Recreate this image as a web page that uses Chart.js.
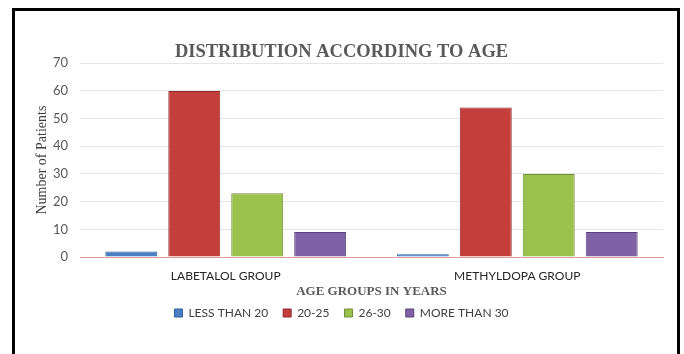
<!DOCTYPE html>
<html>
<head>
<meta charset="utf-8">
<script src="https://cdn.jsdelivr.net/npm/chart.js@4/dist/chart.umd.min.js"></script>
<style>
  html, body { margin: 0; padding: 0; background: #fff; overflow: hidden; }
  #frame {
    position: absolute; left: 12px; top: 8px; width: 668px; height: 420px;
    box-sizing: border-box; border: 3px solid #000;
  }
  #chart { position: absolute; left: 0; top: 0; }
</style>
</head>
<body>
<div id="frame"></div>
<canvas id="chart" width="684" height="354"></canvas>
<script>
// chart data
const groups = ['LABETALOL GROUP', 'METHYLDOPA GROUP'];
const ageBands = ['LESS THAN 20', '20-25', '26-30', 'MORE THAN 30'];
const lessThan20 = [2, 1];
const age20to25 = [60, 54];
const age26to30 = [23, 30];
const moreThan30 = [9, 9];
const yTicks = [0, 10, 20, 30, 40, 50, 60, 70];

const fills = ['#4a7fc4', '#c43f3c', '#9cc24e', '#7f61a6'];
const edges = ['#2f5f99', '#8e2a28', '#6f8f33', '#5a437c'];
const series = [lessThan20, age20to25, age26to30, moreThan30];

const ctx = document.getElementById('chart').getContext('2d');
new Chart(ctx, {
  type: 'bar',
  data: {
    labels: groups,
    datasets: series.map((vals, i) => ({
      label: ageBands[i], data: vals,
      backgroundColor: fills[i], borderColor: edges[i], borderWidth: 1,
      categoryPercentage: 0.864, barPercentage: 0.825
    }))
  },
  options: {
    responsive: false, animation: false,
    layout: { padding: { left: 20, right: 21, top: 41, bottom: 25 } },
    plugins: {
      title: {
        display: true, text: 'DISTRIBUTION ACCORDING TO AGE', color: '#595959',
        font: { family: 'Liberation Serif', size: 18.5, weight: 'bold' },
        padding: { top: 0, bottom: 0 }
      },
      legend: {
        position: 'bottom',
        labels: {
          color: '#404040', boxWidth: 8, boxHeight: 8, padding: 15,
          font: { family: 'Lato', size: 12 }
        }
      },
      tooltip: { enabled: false }
    },
    scales: {
      x: {
        grid: { display: false, drawTicks: false },
        border: { color: '#dc9c9a', width: 1 },
        ticks: { color: '#262626', padding: 12, font: { family: 'Lato', size: 12 } },
        title: {
          display: true, text: 'AGE GROUPS IN YEARS', color: '#595959',
          font: { family: 'Liberation Serif', size: 13, weight: 'bold' },
          padding: { top: 0, bottom: -7 }
        },
        afterFit: s => { s.height = 35; }
      },
      y: {
        min: 0, max: 70,
        afterBuildTicks: s => { s.ticks = yTicks.map(v => ({ value: v })); },
        grid: { color: '#e6e6e6', drawTicks: false },
        border: { display: false },
        ticks: { color: '#595959', padding: 12, font: { family: 'Lato', size: 13 } },
        title: {
          display: true, text: 'Number of Patients', color: '#404040',
          font: { family: 'Liberation Serif', size: 14 },
          padding: { top: 14, bottom: 0 }
        },
        afterFit: s => { s.width = 60; }
      }
    }
  }
});
</script>
</body>
</html>
